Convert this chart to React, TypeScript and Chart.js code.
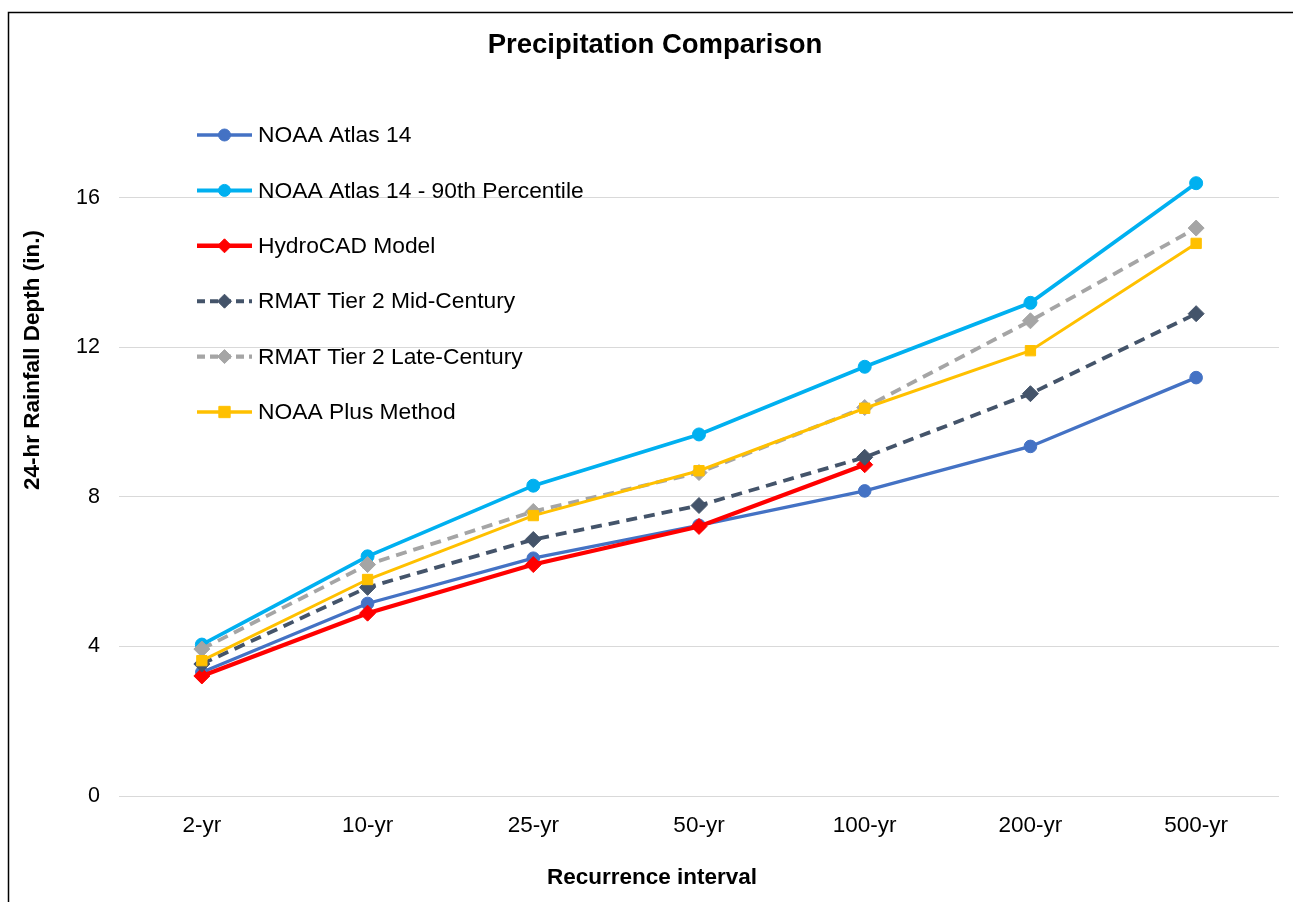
import React, { useEffect, useRef } from "react";
import { Chart, registerables } from "chart.js";

Chart.register(...registerables);

const CATEGORIES = ["2-yr", "10-yr", "25-yr", "50-yr", "100-yr", "200-yr", "500-yr"];
const NOAA_ATLAS_14 = [3.31, 5.15, 6.36, 7.24, 8.16, 9.35, 11.19];
const NOAA_90TH = [4.05, 6.41, 8.3, 9.67, 11.48, 13.19, 16.39];
const HYDROCAD = [3.21, 4.89, 6.19, 7.21, 8.86, null, null];
const RMAT_MID = [3.53, 5.58, 6.86, 7.77, 9.06, 10.76, 12.9];
const RMAT_LATE = [3.93, 6.19, 7.61, 8.65, 10.39, 12.71, 15.19];
const NOAA_PLUS = [3.62, 5.79, 7.5, 8.7, 10.37, 11.91, 14.78];
const Y_TICKS = [0, 4, 8, 12, 16];

const SERIES_NAMES = [
  "NOAA Atlas 14",
  "NOAA Atlas 14 - 90th Percentile",
  "HydroCAD Model",
  "RMAT Tier 2 Mid-Century",
  "RMAT Tier 2 Late-Century",
  "NOAA Plus Method",
];

const FONT = "'Liberation Sans', Arial, sans-serif";

type Style = {
  color: string;
  width: number;
  dash: number[];
  point: string;
  radius: number;
  legendRadius: number;
};

const STYLES: Style[] = [
  { color: "#4472C4", width: 3.3, dash: [], point: "circle", radius: 6.3, legendRadius: 6 },
  { color: "#00B0F0", width: 3.7, dash: [], point: "circle", radius: 6.5, legendRadius: 6 },
  { color: "#FF0000", width: 4.2, dash: [], point: "rectRot", radius: 8, legendRadius: 7 },
  { color: "#44546A", width: 3.8, dash: [11, 7], point: "rectRot", radius: 8, legendRadius: 7 },
  { color: "#A5A5A5", width: 3.8, dash: [11, 7], point: "rectRot", radius: 8, legendRadius: 7 },
  { color: "#FFC000", width: 3, dash: [], point: "rect", radius: 7.3, legendRadius: 8 },
];

const SERIES_VALUES = [NOAA_ATLAS_14, NOAA_90TH, HYDROCAD, RMAT_MID, RMAT_LATE, NOAA_PLUS];

const decorPlugin = {
  id: "decor",
  afterDraw(chart: any) {
    const ctx = chart.ctx as CanvasRenderingContext2D;
    ctx.save();
    // outer border (left + top visible)
    ctx.strokeStyle = "#000";
    ctx.lineWidth = 1.5;
    ctx.beginPath();
    ctx.moveTo(8.5, 902);
    ctx.lineTo(8.5, 12.5);
    ctx.lineTo(1293, 12.5);
    ctx.stroke();

    // title
    ctx.fillStyle = "#000";
    ctx.font = `bold 27.5px ${FONT}`;
    ctx.textAlign = "center";
    ctx.textBaseline = "middle";
    ctx.fillText("Precipitation Comparison", 655, 45);

    // x axis title
    ctx.font = `bold 22.5px ${FONT}`;
    ctx.fillText("Recurrence interval", 652, 878);

    // y axis title
    ctx.save();
    ctx.translate(33, 360);
    ctx.rotate(-Math.PI / 2);
    ctx.fillText("24-hr Rainfall Depth (in.)", 0, 0);
    ctx.restore();

    // legend
    const x0 = 197;
    const x1 = 252;
    const startY = 135;
    const step = 55.4;
    ctx.font = `22.8px ${FONT}`;
    ctx.textAlign = "left";
    SERIES_NAMES.forEach((name, i) => {
      const s = STYLES[i];
      const y = startY + i * step;
      ctx.save();
      ctx.strokeStyle = s.color;
      ctx.lineWidth = s.width + 0.3;
      ctx.setLineDash(s.dash.length ? [8, 5] : []);
      ctx.beginPath();
      ctx.moveTo(x0, y);
      ctx.lineTo(x1, y);
      ctx.stroke();
      ctx.setLineDash([]);
      ctx.fillStyle = s.color;
      ctx.strokeStyle = s.color;
      ctx.lineWidth = 1;
      ctx.beginPath();
      const cx = (x0 + x1) / 2;
      const r = s.legendRadius;
      if (s.point === "circle") {
        ctx.arc(cx, y, r, 0, Math.PI * 2);
      } else if (s.point === "rectRot") {
        ctx.moveTo(cx - r, y);
        ctx.lineTo(cx, y - r);
        ctx.lineTo(cx + r, y);
        ctx.lineTo(cx, y + r);
        ctx.closePath();
      } else {
        const h = r * Math.SQRT1_2;
        ctx.rect(cx - h, y - h, 2 * h, 2 * h);
      }
      ctx.fill();
      ctx.stroke();
      ctx.restore();
      ctx.fillStyle = "#000";
      ctx.fillText(name, 258, y + 1);
    });
    ctx.restore();
  },
};

export default function App() {
  const ref = useRef<HTMLCanvasElement | null>(null);

  useEffect(() => {
    if (!ref.current) return;
    const n = SERIES_NAMES.length;
    const chart = new Chart(ref.current, {
      type: "line",
      data: {
        labels: CATEGORIES,
        datasets: SERIES_NAMES.map((name, i) => {
          const s = STYLES[i];
          return {
            label: name,
            data: SERIES_VALUES[i],
            borderColor: s.color,
            backgroundColor: s.color,
            borderWidth: s.width,
            borderDash: s.dash,
            pointStyle: s.point as any,
            pointRadius: s.radius,
            pointHoverRadius: s.radius,
            pointBorderWidth: 1,
            pointBackgroundColor: s.color,
            pointBorderColor: s.color,
            tension: 0,
            fill: false,
            spanGaps: false,
            order: n - i,
          };
        }),
      },
      options: {
        responsive: false,
        animation: false,
        devicePixelRatio: 1,
        layout: { padding: { top: 123, right: 14, bottom: 0, left: 0 } },
        plugins: {
          legend: { display: false },
          title: { display: false },
          tooltip: { enabled: false },
        },
        scales: {
          x: {
            type: "category",
            offset: true,
            grid: { display: false, drawTicks: false },
            border: { display: false },
            ticks: {
              color: "#000",
              font: { family: FONT, size: 22.5 },
              padding: 16,
              maxRotation: 0,
            },
            afterFit(scale: any) {
              scale.height = 106;
            },
          },
          y: {
            type: "linear",
            min: 0,
            max: 18,
            grid: { color: "#D9D9D9", lineWidth: 1, drawTicks: false },
            border: { display: false },
            ticks: {
              stepSize: 4,
              includeBounds: false,
              color: "#000",
              font: { family: FONT, size: 21.5 },
              padding: 19,
            },
            afterBuildTicks(scale: any) {
              scale.ticks = Y_TICKS.map((v) => ({ value: v }));
            },
            afterFit(scale: any) {
              scale.width = 119;
            },
          },
        },
      },
      plugins: [decorPlugin],
    });
    return () => chart.destroy();
  }, []);

  return (
    <div style={{ position: "fixed", left: 0, top: 0, width: 1293, height: 902, background: "#fff" }}>
      <canvas ref={ref} width={1293} height={902} style={{ display: "block", width: 1293, height: 902 }} />
    </div>
  );
}
